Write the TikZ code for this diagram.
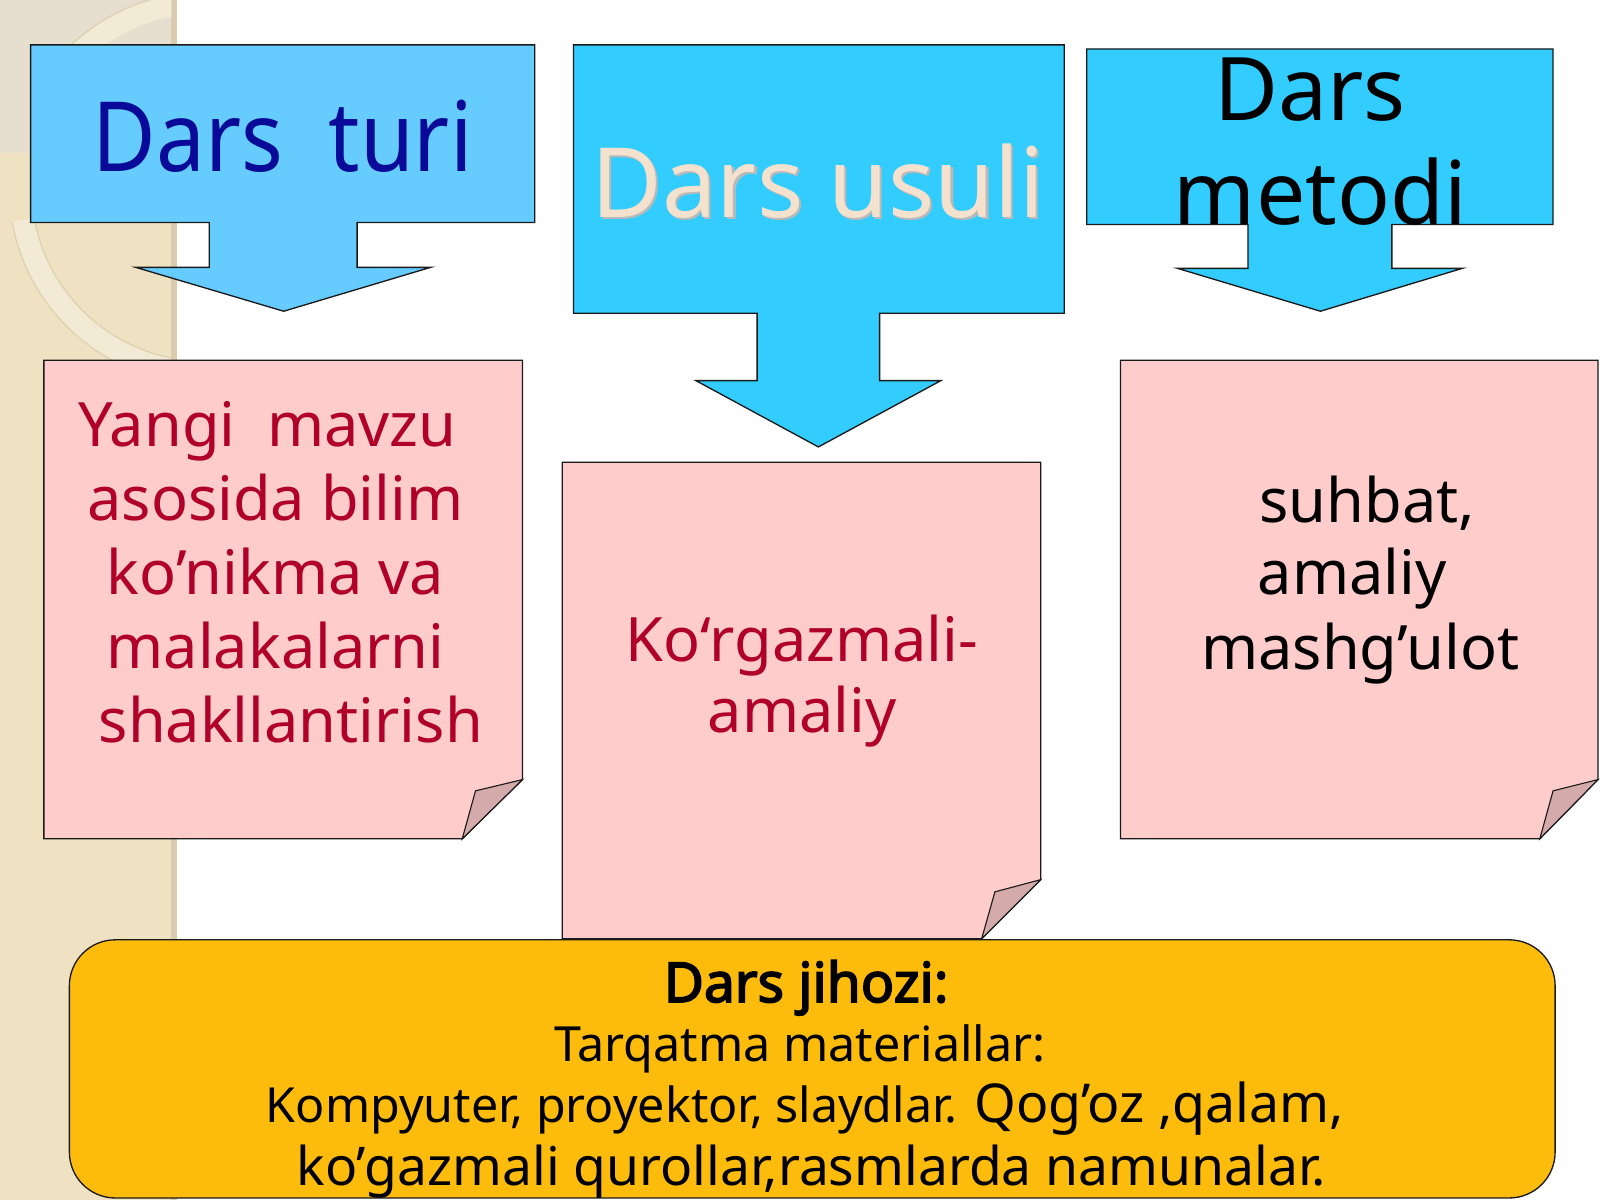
\documentclass[tikz,border=0pt]{standalone}
\usepackage{fontspec}
\setmainfont{Noto Sans}
\newfontfamily\turifont{Noto Sans}[FakeStretch=0.9]
\newfontfamily\jboldfont{Noto Sans}[FakeBold=3]
\definecolor{bglight}{HTML}{E6DECE}
\definecolor{bgstrip}{HTML}{EFE2C3}
\definecolor{bgedge}{HTML}{D9CCAE}
\definecolor{ringband}{HTML}{F3EAD6}
\definecolor{ringedge}{HTML}{DCCFAE}
\definecolor{blueA}{HTML}{66CCFF}
\definecolor{blueB}{HTML}{33CCFF}
\definecolor{navytxt}{HTML}{0A0A99}
\definecolor{peachtxt}{HTML}{F4E2CE}
\definecolor{pinkbox}{HTML}{FFCCCC}
\definecolor{pinktxt}{HTML}{B0002A}
\definecolor{foldc}{HTML}{D5AAAA}
\definecolor{yelbox}{HTML}{FDBB0C}
\definecolor{outl}{HTML}{1A1A1A}
\begin{document}
\begin{tikzpicture}[x=1pt,y=-1pt,line join=miter,
  calloutbox/.style={draw=outl,line width=1.3pt},
  notebox/.style={draw=outl,line width=1.3pt,fill=pinkbox},
  foldbox/.style={draw=outl,line width=1.1pt,fill=foldc},
  txt/.style={anchor=base,inner sep=0pt,outer sep=0pt},
  pinkfont/.style={font=\fontsize{60}{72}\selectfont},
]
\useasboundingbox (0,0) rectangle (1568,1176);
% background
\fill[white] (0,0) rectangle (1568,1176);
\fill[bgstrip] (0,150) rectangle (172,1176);
\fill[bglight] (0,0) rectangle (172,150);
\fill[bgedge] (168,0) rectangle (173,1176);
\begin{scope}
  \clip (0,0) rectangle (168,1176);
  \draw[ringband,line width=20pt] (201,184) ++(100:181) arc[start angle=100,end angle=170,radius=181];
  \draw[ringedge,line width=1pt] (201,184) ++(100:192) arc[start angle=100,end angle=170,radius=192];
  \draw[ringedge,line width=1pt] (201,184) ++(100:170) arc[start angle=100,end angle=170,radius=170];
  \draw[ringband,line width=20pt] (201,184) ++(222:181) arc[start angle=222,end angle=280,radius=181];
  \draw[ringedge,line width=1pt] (201,184) ++(222:192) arc[start angle=222,end angle=280,radius=192];
\end{scope}
% callout: Dars turi
\path[calloutbox,fill=blueA] (30,44) -- (524,44) -- (524,218) -- (350,218) -- (350,262) -- (422,262)
  -- (278,305) -- (133,262) -- (205,262) -- (205,218) -- (30,218) -- cycle;
% callout: Dars usuli
\path[calloutbox,fill=blueB] (562,44) -- (1043,44) -- (1043,307) -- (862,307) -- (862,373) -- (922,373)
  -- (802,438) -- (682,373) -- (742,373) -- (742,307) -- (562,307) -- cycle;
% callout: Dars metodi
\path[calloutbox,fill=blueB] (1065,48) -- (1522,48) -- (1522,220) -- (1364,220) -- (1364,263) -- (1433,263)
  -- (1294,305) -- (1154,263) -- (1223,263) -- (1223,220) -- (1065,220) -- cycle;
% notes
\path[notebox] (43,353) -- (512,353) -- (512,764) -- (453,822) -- (43,822) -- cycle;
\path[foldbox] (453,822) -- (466,775) -- (512,764) -- cycle;
\path[notebox] (551,453) -- (1020,453) -- (1020,862) -- (962,920) -- (551,920) -- cycle;
\path[foldbox] (962,920) -- (975,874) -- (1020,862) -- cycle;
\path[notebox] (1098,353) -- (1566,353) -- (1566,764) -- (1509,822) -- (1098,822) -- cycle;
\path[foldbox] (1509,822) -- (1522,775) -- (1566,764) -- cycle;
% equipment box
\path[draw=outl,line width=1.3pt,fill=yelbox,rounded corners=45pt] (68,921) rectangle (1524,1174);
% titles
\node[txt,text=navytxt,font=\turifont\fontsize{95}{95}\selectfont] (turi) at (277,168) {Dars\ \ turi};
\node[txt,text=gray!55,font=\fontsize{95}{95}\selectfont] (usulishadow) at (804,215) {Dars usuli};
\node[txt,text=peachtxt,font=\fontsize{95}{95}\selectfont] (usuli) at (802,213) {Dars usuli};
\node[txt,text=black,font=\fontsize{86}{86}\selectfont] (metodiA) at (1284,118) {Dars};
\node[txt,text=black,font=\fontsize{86}{86}\selectfont] (metodiB) at (1294,220) {metodi};
% left note text
\node[txt,text=pinktxt,pinkfont] (l1) at (262,438) {Yangi\ \ mavzu};
\node[txt,text=pinktxt,pinkfont] (l2) at (270,510) {asosida bilim};
\node[txt,text=pinktxt,pinkfont] (l3) at (270,583) {ko’nikma va};
\node[txt,text=pinktxt,pinkfont] (l4) at (270,655) {malakalarni};
\node[txt,text=pinktxt,pinkfont] (l5) at (285,728) {shakllantirish};
% middle note text
\node[txt,text=pinktxt,pinkfont] (m1) at (786,648) {Ko‘rgazmali-};
\node[txt,text=pinktxt,pinkfont] (m2) at (786,718) {amaliy};
% right note text
\node[txt,text=black,pinkfont] (r1) at (1340,512) {suhbat,};
\node[txt,text=black,pinkfont] (r2) at (1325,583) {amaliy};
\node[txt,text=black,pinkfont] (r3) at (1333,656) {mashg’ulot};
% equipment text
\node[txt,text=black,font=\jboldfont\fontsize{54}{54}\selectfont] (y1) at (790,982) {Dars jihozi:};
\node[txt,text=black,font=\fontsize{47.5}{47.5}\selectfont] (y2) at (784,1040) {Tarqatma materiallar:};
\node[txt,text=black] (y3) at (789,1100) {\fontsize{47.4}{47.4}\selectfont Kompyuter, proyektor, slaydlar. \fontsize{52.5}{52.5}\selectfont Qog’oz ,qalam,};
\node[txt,text=black,font=\fontsize{52.3}{52.3}\selectfont] (y4) at (795,1162) {ko’gazmali qurollar,rasmlarda namunalar.};
\end{tikzpicture}
\end{document}
